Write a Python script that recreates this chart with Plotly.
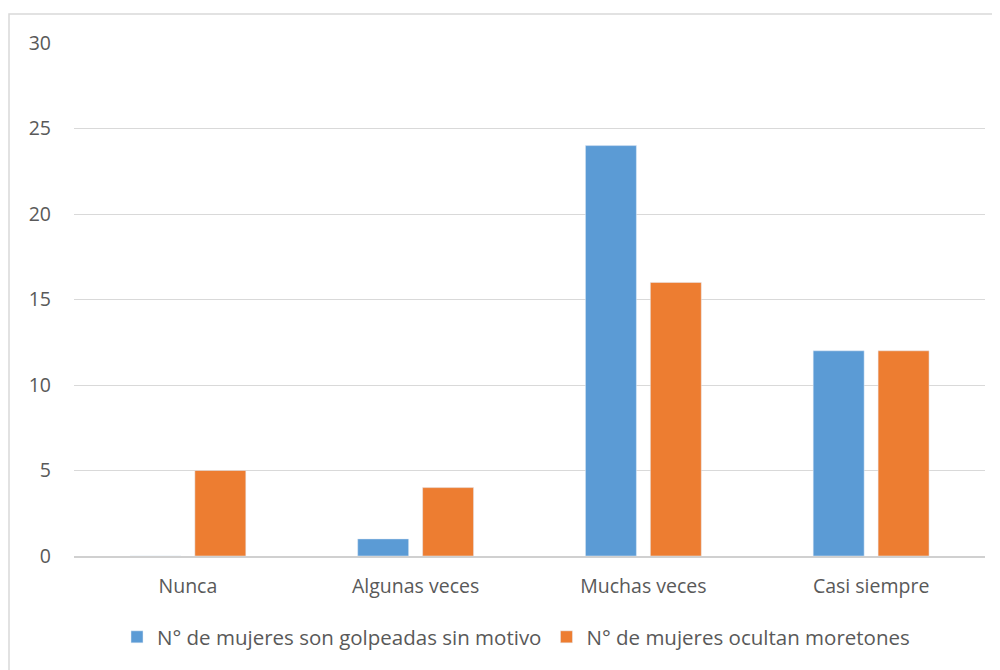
import plotly.graph_objects as go

categories = ["Nunca", "Algunas veces", "Muchas veces", "Casi siempre"]
golpeadas = [0, 1, 24, 12]
moretones = [5, 4, 16, 12]
series_names = ["N° de mujeres son golpeadas sin motivo", "N° de mujeres ocultan moretones"]
y_ticks = [0, 5, 10, 15, 20, 25, 30]

fig = go.Figure()
fig.add_trace(go.Bar(x=categories, y=golpeadas, name=series_names[0], marker_color="#5B9BD5"))
fig.add_trace(go.Bar(x=categories, y=moretones, name=series_names[1], marker_color="#ED7D31"))

OFF = 8  # page body margin offset
W, H = 1000, 670
L, T = 74 - OFF, 43 - OFF
R = W - (985 - OFF)
B = H - (556 - OFF)
pw, ph = W - L - R, H - T - B

def px_x(p):
    return (p - OFF - L) / pw

def px_y(p):
    return (H - B - (p - OFF)) / ph

fig.update_layout(
    width=W, height=H,
    margin=dict(l=L, r=R, t=T, b=B),
    paper_bgcolor="white", plot_bgcolor="white",
    barmode="group", bargap=0.43, bargroupgap=0.215,
    font=dict(family="Open Sans", color="#595959", size=19),
    showlegend=True,
    legend=dict(orientation="h", x=px_x(516), xanchor="center", y=px_y(637), yanchor="middle",
                font=dict(size=20.5, color="#595959"), itemwidth=30, traceorder="normal"),
    xaxis=dict(showgrid=False, showline=True, linecolor="#d0d0d0", linewidth=1.5,
               ticks="", tickfont=dict(size=19.5, color="#595959"), ticklabelstandoff=12),
    yaxis=dict(range=[0, 30], tickvals=y_ticks, showgrid=True, gridcolor="#d9d9d9", gridwidth=1.3,
               zeroline=False, showline=False, ticks="", tickfont=dict(size=19.5, color="#595959"),
               ticklabelstandoff=22),
    shapes=[dict(type="rect", xref="paper", yref="paper",
                 x0=px_x(9), x1=px_x(997), y0=px_y(700), y1=px_y(14),
                 line=dict(color="#d9d9d9", width=1.5), fillcolor="rgba(0,0,0,0)", layer="below")],
)

fig.write_html("out.html")
